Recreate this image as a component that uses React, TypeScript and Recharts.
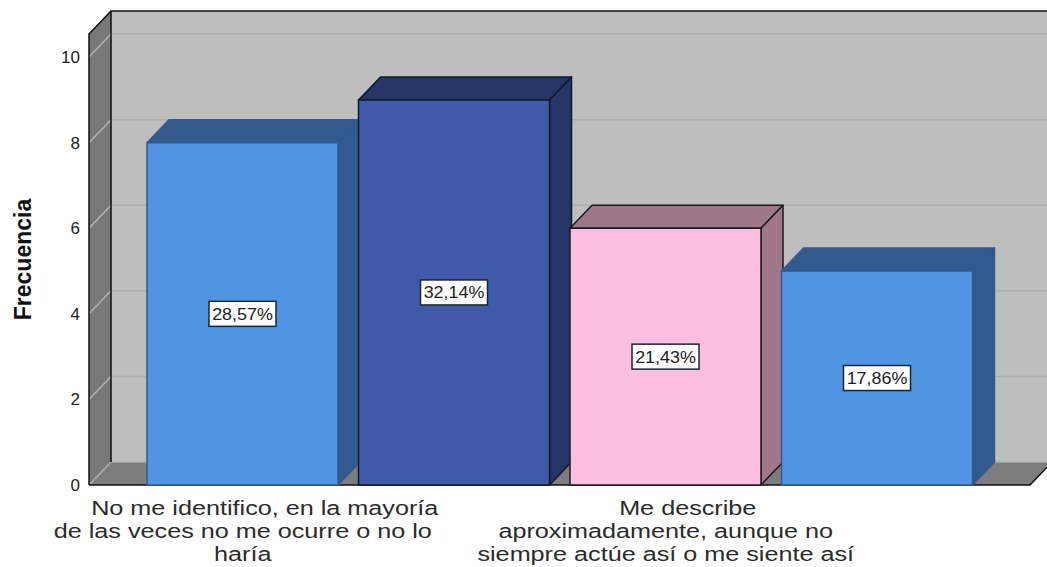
import { Bar, BarChart, LabelList, ReferenceArea, XAxis, YAxis } from 'recharts';

const categories = ['No me identifico', 'Categoria 2', 'Me describe', 'Categoria 4'];
const frecuencia = [8, 9, 6, 5];
const porcentajes = ['28,57%', '32,14%', '21,43%', '17,86%'];
const yTicks = [0, 2, 4, 6, 8, 10];
const tickLines = [
  ['No me identifico, en la mayoría', 'de las veces no me ocurre o no lo', 'haría'],
  [],
  ['Me describe', 'aproximadamente, aunque no', 'siempre actúe así o me siente así'],
  [],
];

const frontFills = ['#5294e4', '#3e5aa8', '#fdbfe0', '#5294e4'];
const sideFills = ['#335a8c', '#263567', '#9f778a', '#335a8c'];
const edgeColors = ['#34598c', '#10182f', '#1a1a1a', '#34598c'];

const DX = 22;
const DY = -23;
const PAD_LEFT = 48;
const PAD_RIGHT = 47;
const FONT = '"Liberation Sans", Arial, sans-serif';

const data = categories.map((name, i) => ({
  name,
  frecuencia: frecuencia[i],
  porcentaje: porcentajes[i],
}));

// reference shapes get the range inside the axis padding, so widen it back out
function Walls({ x: px, y, width: pw, height }: any) {
  const x = px - PAD_LEFT;
  const width = pw + PAD_LEFT + PAD_RIGHT;
  const right = x + width;
  const bottom = y + height;
  return (
    <g>
      <rect x={x + DX} y={y + DY} width={width} height={height} fill="#bebebe" />
      <polygon
        points={`${x},${y} ${x + DX},${y + DY} ${x + DX},${bottom + DY} ${x},${bottom}`}
        fill="#787878"
      />
      <polygon
        points={`${x},${bottom} ${x + DX},${bottom + DY} ${right + DX},${bottom + DY} ${right},${bottom}`}
        fill="#7d7d7d"
      />
    </g>
  );
}

function WallEdges({ x: px, y, width: pw, height }: any) {
  const x = px - PAD_LEFT;
  const right = px + pw + PAD_RIGHT;
  const bottom = y + height;
  return (
    <g>
      <line x1={x} y1={bottom} x2={x + DX} y2={bottom + DY} stroke="#a8a8a8" />
      <path
        d={`M${x},${bottom} L${x},${y} L${x + DX},${y + DY} L${right + DX},${y + DY} M${x + DX},${y + DY} L${x + DX},${bottom + DY} M${x},${bottom} L${right},${bottom} L${right + DX},${bottom + DY}`}
        fill="none"
        stroke="#111"
        strokeWidth={1.5}
      />
    </g>
  );
}

function GridLine({ x, y, width }: any) {
  const left = x - PAD_LEFT;
  const right = x + width + PAD_RIGHT;
  return (
    <g>
      <line x1={left} y1={y} x2={left + DX} y2={y + DY} stroke="#b4b4b4" strokeWidth={1.5} />
      <line x1={left + DX} y1={y + DY} x2={right + DX} y2={y + DY} stroke="#adadad" strokeWidth={1.5} />
    </g>
  );
}

function Bar3D({ x, y, width, height, index }: any) {
  const r = x + width;
  const b = y + height;
  const edge = edgeColors[index];
  return (
    <g stroke={edge} strokeWidth={1.5} strokeLinejoin="round">
      <polygon
        points={`${x},${y} ${x + DX},${y + DY} ${r + DX},${y + DY} ${r},${y}`}
        fill={sideFills[index]}
      />
      <polygon
        points={`${r},${y} ${r + DX},${y + DY} ${r + DX},${b + DY} ${r},${b}`}
        fill={sideFills[index]}
      />
      <rect x={x} y={y} width={width} height={height} fill={frontFills[index]} />
    </g>
  );
}

function PercentLabel({ x, y, width, height, value }: any) {
  const cx = x + width / 2;
  const cy = y + height / 2;
  return (
    <g>
      <rect x={cx - 33.5} y={cy - 12.5} width={67} height={25} fill="#fff" stroke="#1c2430" strokeWidth={1.5} />
      <text
        transform={`translate(${cx},${cy + 6}) scale(1.12,1)`}
        textAnchor="middle"
        fontSize={16}
        fontFamily={FONT}
        fill="#222"
      >
        {value}
      </text>
    </g>
  );
}

function CategoryTick({ x, y, index }: any) {
  const lines = tickLines[index] ?? [];
  return (
    <g>
      {lines.map((line, i) => (
        <text
          key={line}
          transform={`translate(${x + (i === 0 ? 22 : 0)},${y + 22 + i * 23}) scale(1.2,1)`}
          textAnchor="middle"
          fontSize={21}
          fontFamily={FONT}
          fill="#2b2b2b"
        >
          {line}
        </text>
      ))}
    </g>
  );
}

export default function App() {
  return (
    <div style={{ position: 'absolute', left: 0, top: 0, width: 1047, height: 567, background: '#fff', overflow: 'hidden' }}>
      <BarChart
        width={1047}
        height={567}
        data={data}
        margin={{ top: 34, right: 17, bottom: 0, left: 0 }}
        barCategoryGap={0}
      >
        <ReferenceArea y1={0} y2={10.54} shape={Walls} ifOverflow="visible" />
        {yTicks.map((t) => (
          <ReferenceArea key={t} y1={t} y2={t} shape={GridLine} ifOverflow="visible" />
        ))}
        <ReferenceArea y1={0} y2={10.54} shape={WallEdges} ifOverflow="visible" />
        <XAxis
          dataKey="name"
          height={82}
          interval={0}
          axisLine={false}
          tickLine={false}
          padding={{ left: PAD_LEFT, right: PAD_RIGHT }}
          tick={CategoryTick}
        />
        <YAxis
          width={89}
          domain={[0, 10.54]}
          ticks={yTicks}
          axisLine={false}
          tickLine={false}
          tickSize={0}
          tickMargin={9}
          tick={{ fontSize: 17, fill: '#222', fontFamily: FONT }}
          label={{
            value: 'Frecuencia',
            angle: -90,
            position: 'insideLeft',
            dx: 18,
            dy: 0,
            style: { fontSize: 23, fontWeight: 700, fontFamily: FONT, fill: '#111', textAnchor: 'middle' },
          }}
        />
        <Bar dataKey="frecuencia" barSize={191} shape={Bar3D} isAnimationActive={false}>
          <LabelList dataKey="porcentaje" content={PercentLabel} />
        </Bar>
      </BarChart>
    </div>
  );
}
